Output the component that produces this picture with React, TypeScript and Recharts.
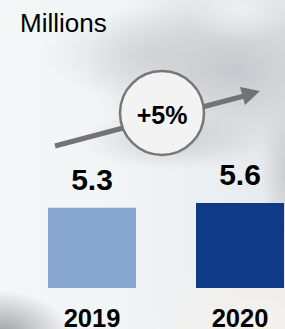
import { Bar, BarChart, Cell, Customized, LabelList, XAxis, YAxis } from "recharts"

const years = ["2019", "2020"]
const volumes = [5.3, 5.6]
const barColors = ["#86a6cf", "#0f3a86"]
const unitLabel = "Millions"
const growthLabel = "+5%"

const data = years.map((year, i) => ({ year, value: volumes[i] }))

const FONT = '"Liberation Sans", Arial, Helvetica, sans-serif'

// photo-ish blurred backdrop behind the chart
const backdrop = [
  "radial-gradient(ellipse 55px 35px at 240px 8px, rgba(238,239,241,0.95), rgba(238,239,241,0) 100%)",
  "radial-gradient(ellipse 150px 95px at 235px 70px, rgba(196,200,204,0.95), rgba(196,200,204,0) 100%)",
  "radial-gradient(ellipse 110px 45px at 150px 55px, rgba(205,208,212,0.7), rgba(205,208,212,0) 100%)",
  "radial-gradient(ellipse 90px 30px at 170px 140px, rgba(200,203,206,0.8), rgba(200,203,206,0) 100%)",
  "radial-gradient(ellipse 30px 70px at 290px 170px, rgba(190,193,197,0.8), rgba(190,193,197,0) 100%)",
  "radial-gradient(ellipse 70px 45px at 0px 335px, rgba(150,152,156,0.95), rgba(150,152,156,0) 100%)",
  "radial-gradient(ellipse 110px 60px at 260px 320px, rgba(248,242,236,0.9), rgba(248,242,236,0) 100%)",
  "linear-gradient(to right, #f4f7f8 0%, #f2f5f6 40%, #e7eaec 100%)",
].join(", ")

function Annotation() {
  // arrow + growth bubble + unit caption, drawn over the plot
  return (
    <g>
      <text x={20} y={32} fontFamily={FONT} fontSize={26} fill="#000">
        {unitLabel}
      </text>
      <line x1={55} y1={146} x2={244} y2={96} stroke="#737373" strokeWidth={5} />
      <polygon points="260,91 240,87 245,105" fill="#737373" />
      <circle cx={162} cy={113} r={42} fill="#f3f3f3" stroke="#777" strokeWidth={2.5} />
      <text
        x={162}
        y={124}
        textAnchor="middle"
        fontFamily={FONT}
        fontSize={25}
        fontWeight="bold"
        fill="#000"
      >
        {growthLabel}
      </text>
    </g>
  )
}

function YearTick({ x, y, payload }: any) {
  return (
    <text
      x={x}
      y={y + 31}
      textAnchor="middle"
      fontFamily={FONT}
      fontSize={25.5}
      fontWeight="bold"
      fill="#000"
    >
      {payload.value}
    </text>
  )
}

export default function App() {
  return (
    <div
      style={{
        position: "absolute",
        left: 0,
        top: 0,
        width: 285,
        height: 329,
        overflow: "hidden",
        background: backdrop,
      }}
    >
      <BarChart
        width={314}
        height={329}
        data={data}
        margin={{ top: 0, right: 0, left: 18, bottom: 0 }}
      >
        <YAxis hide domain={[0, 19]} />
        <XAxis
          dataKey="year"
          axisLine={false}
          tickLine={false}
          height={41}
          interval={0}
          tick={<YearTick />}
        />
        <Bar dataKey="value" barSize={88} isAnimationActive={false}>
          {data.map((d, i) => (
            <Cell key={d.year} fill={barColors[i]} />
          ))}
          <LabelList
            dataKey="value"
            position="top"
            offset={18}
            fill="#000"
            fontFamily={FONT}
            fontSize={30}
            fontWeight="bold"
          />
        </Bar>
        <Customized component={<Annotation />} />
      </BarChart>
    </div>
  )
}
